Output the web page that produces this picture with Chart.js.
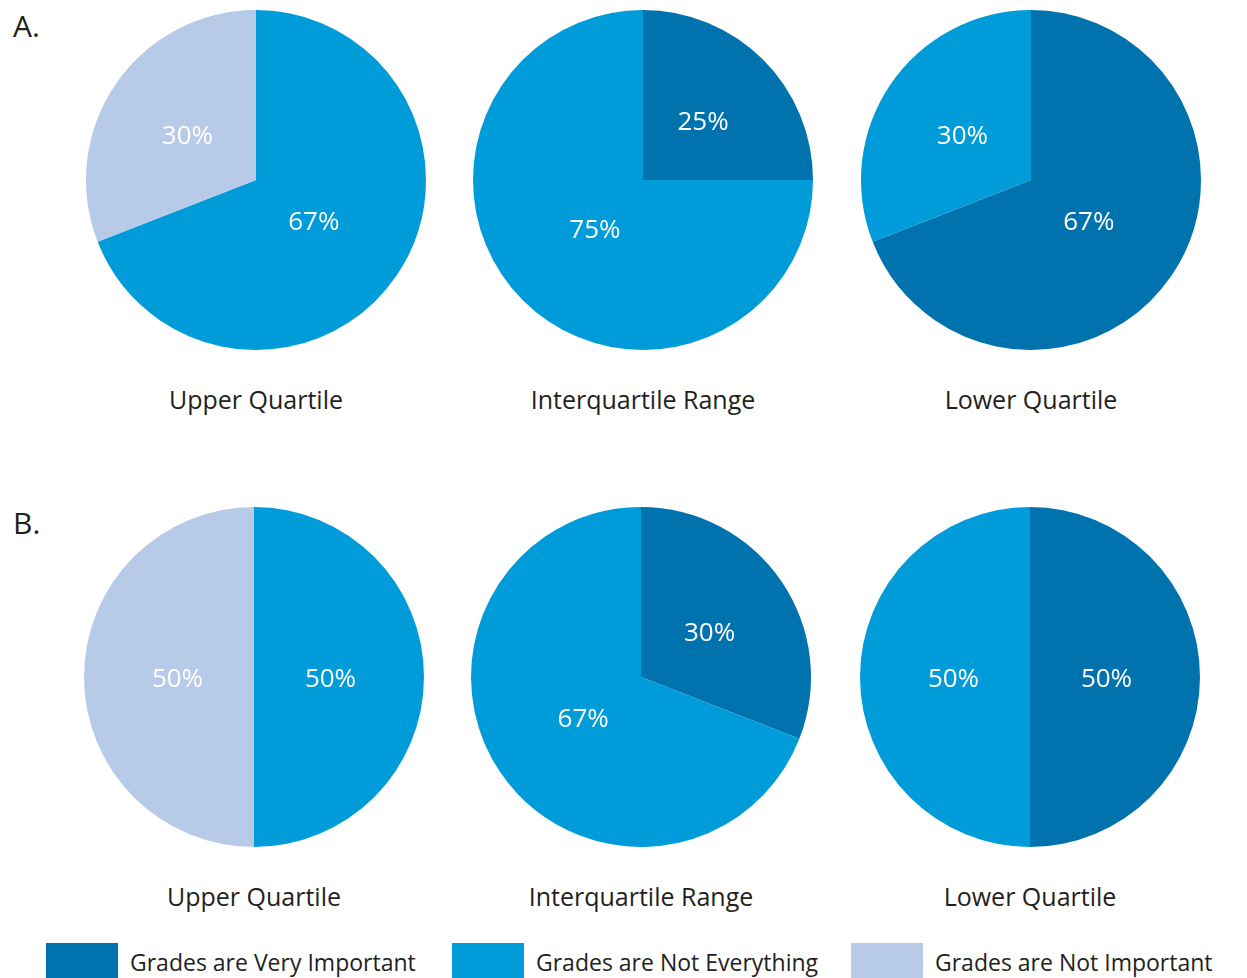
<!DOCTYPE html>
<html lang="en">
<head>
    <meta charset="UTF-8">
    <title>Importance of Grades by Quartile</title>
    <script src="https://cdn.jsdelivr.net/npm/chart.js"></script>
    <style>
        body { margin: 0; background: #fff; font-family: 'Open Sans', sans-serif; color: #231f20; }
        #page { position: relative; width: 1247px; height: 978px; overflow: hidden; }
        .pie { position: absolute; width: 340px; height: 340px; }
        .title { position: absolute; width: 340px; text-align: center; font-size: 25px; line-height: 30px; }
        .panel { position: absolute; font-size: 30px; line-height: 34px; }
        .key { position: absolute; top: 943px; width: 72px; height: 40px; }
        .keytext { position: absolute; top: 947px; font-size: 23px; line-height: 30px; }
    </style>
</head>
<body>
<div id="page"></div>
<script>
    const categories = ['Grades are Very Important', 'Grades are Not Everything', 'Grades are Not Important'];
    const colors = ['#0073ae', '#009bd9', '#b7cae8'];
    const quartiles = ['Upper Quartile', 'Interquartile Range', 'Lower Quartile'];

    // percentages per quartile, slices run clockwise from 12 o'clock in category order
    const panelA_veryImportant = [0, 25, 67];
    const panelA_notEverything = [67, 75, 30];
    const panelA_notImportant = [30, 0, 0];

    const panelB_veryImportant = [0, 30, 50];
    const panelB_notEverything = [50, 67, 50];
    const panelB_notImportant = [50, 0, 0];

    const panels = [
        { name: 'A.', top: 10, centers: [256, 643, 1031], series: [panelA_veryImportant, panelA_notEverything, panelA_notImportant] },
        { name: 'B.', top: 507, centers: [254, 641, 1030], series: [panelB_veryImportant, panelB_notEverything, panelB_notImportant] }
    ];

    // white percentage text inside each slice; wide slices keep the text nearer the centre
    const sliceLabels = {
        id: 'sliceLabels',
        afterDatasetsDraw(chart) {
            const ctx = chart.ctx;
            const ds = chart.data.datasets[0];
            ctx.save();
            ctx.fillStyle = '#ffffff';
            ctx.font = '26px "Open Sans", sans-serif';
            ctx.textAlign = 'center';
            ctx.textBaseline = 'middle';
            chart.getDatasetMeta(0).data.forEach((arc, i) => {
                const v = ds.data[i];
                if (!v) return;
                const p = arc.getProps(['x', 'y', 'startAngle', 'endAngle', 'outerRadius']);
                const span = p.endAngle - p.startAngle;
                const mid = (p.startAngle + p.endAngle) / 2;
                const r = p.outerRadius * (0.55 - 0.1 * span / Math.PI);
                ctx.fillText(v + '%', p.x + Math.cos(mid) * r, p.y + Math.sin(mid) * r + 3);
            });
            ctx.restore();
        }
    };

    const page = document.getElementById('page');

    panels.forEach(panel => {
        const tag = document.createElement('div');
        tag.className = 'panel';
        tag.style.left = '13px';
        tag.style.top = (panel.top - 1) + 'px';
        tag.textContent = panel.name;
        page.appendChild(tag);

        quartiles.forEach((q, qi) => {
            const box = document.createElement('div');
            box.className = 'pie';
            box.style.left = (panel.centers[qi] - 170) + 'px';
            box.style.top = panel.top + 'px';
            const canvas = document.createElement('canvas');
            box.appendChild(canvas);
            page.appendChild(box);

            const title = document.createElement('div');
            title.className = 'title';
            title.style.left = (panel.centers[qi] - 170) + 'px';
            title.style.top = (panel.top + 374) + 'px';
            title.textContent = q;
            page.appendChild(title);

            new Chart(canvas, {
                type: 'pie',
                data: {
                    labels: categories,
                    datasets: [{
                        data: panel.series.map(s => s[qi]),
                        backgroundColor: colors,
                        borderWidth: 0,
                        hoverOffset: 0
                    }]
                },
                options: {
                    responsive: true,
                    maintainAspectRatio: false,
                    animation: false,
                    events: [],
                    layout: { padding: 0 },
                    plugins: {
                        legend: { display: false },
                        tooltip: { enabled: false }
                    }
                },
                plugins: [sliceLabels]
            });
        });
    });

    // legend along the bottom
    const keyLeft = [46, 452, 851];
    categories.forEach((c, i) => {
        const sw = document.createElement('div');
        sw.className = 'key';
        sw.style.left = keyLeft[i] + 'px';
        sw.style.background = colors[i];
        page.appendChild(sw);

        const t = document.createElement('div');
        t.className = 'keytext';
        t.style.left = (keyLeft[i] + 84) + 'px';
        t.textContent = c;
        page.appendChild(t);
    });
</script>
</body>
</html>
